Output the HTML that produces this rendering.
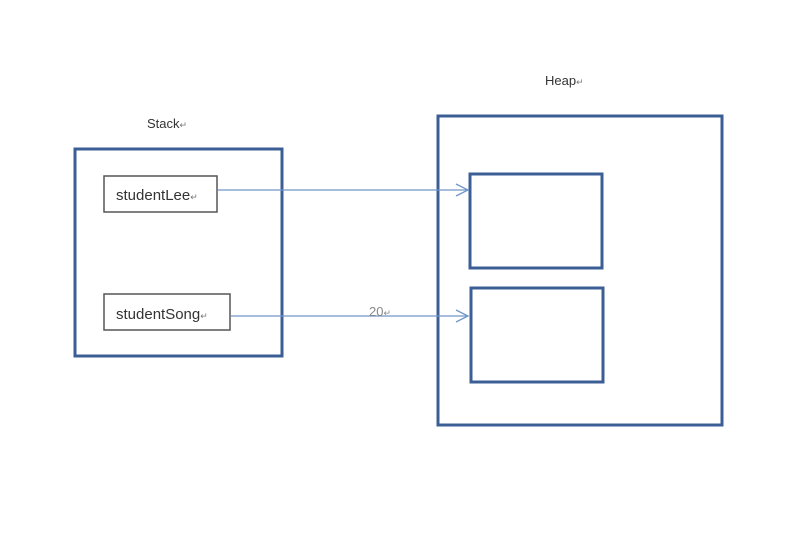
<!DOCTYPE html>
<html><head><style>
body{margin:0;background:#fff;width:795px;height:541px;overflow:hidden;font-family:"Liberation Sans",sans-serif}
</style></head><body>
<svg width="795" height="541" xmlns="http://www.w3.org/2000/svg">
<g fill="none" stroke="#3b5f95" stroke-width="3">
<rect x="75" y="149" width="207" height="207"/>
<rect x="438" y="116" width="284" height="309"/>
<rect x="470" y="174" width="132" height="94"/>
<rect x="471" y="288" width="132" height="94"/>
</g>
<g fill="#fff" stroke="#555" stroke-width="1.5">
<rect x="104" y="176" width="113" height="36"/>
<rect x="104" y="294" width="126" height="36"/>
</g>
<g stroke="#7096c8" stroke-width="1.3" fill="none">
<line x1="218" y1="190" x2="468" y2="190"/>
<polyline points="456,184 468,190 456,196"/>
<line x1="231" y1="316" x2="468" y2="316"/>
<polyline points="456,310 468,316 456,322"/>
</g>
<g font-size="15" fill="#333">
<text x="116" y="200">studentLee<tspan font-size="9" fill="#777">↵</tspan></text>
<text x="116" y="319">studentSong<tspan font-size="9" fill="#777">↵</tspan></text>
</g>
<g font-size="13" fill="#333">
<text x="147" y="128">Stack<tspan font-size="9" fill="#777">↵</tspan></text>
<text x="545" y="85">Heap<tspan font-size="9" fill="#777">↵</tspan></text>
<text x="369" y="316" fill="#888">20<tspan font-size="9">↵</tspan></text>
</g>
</svg>
</body></html>
